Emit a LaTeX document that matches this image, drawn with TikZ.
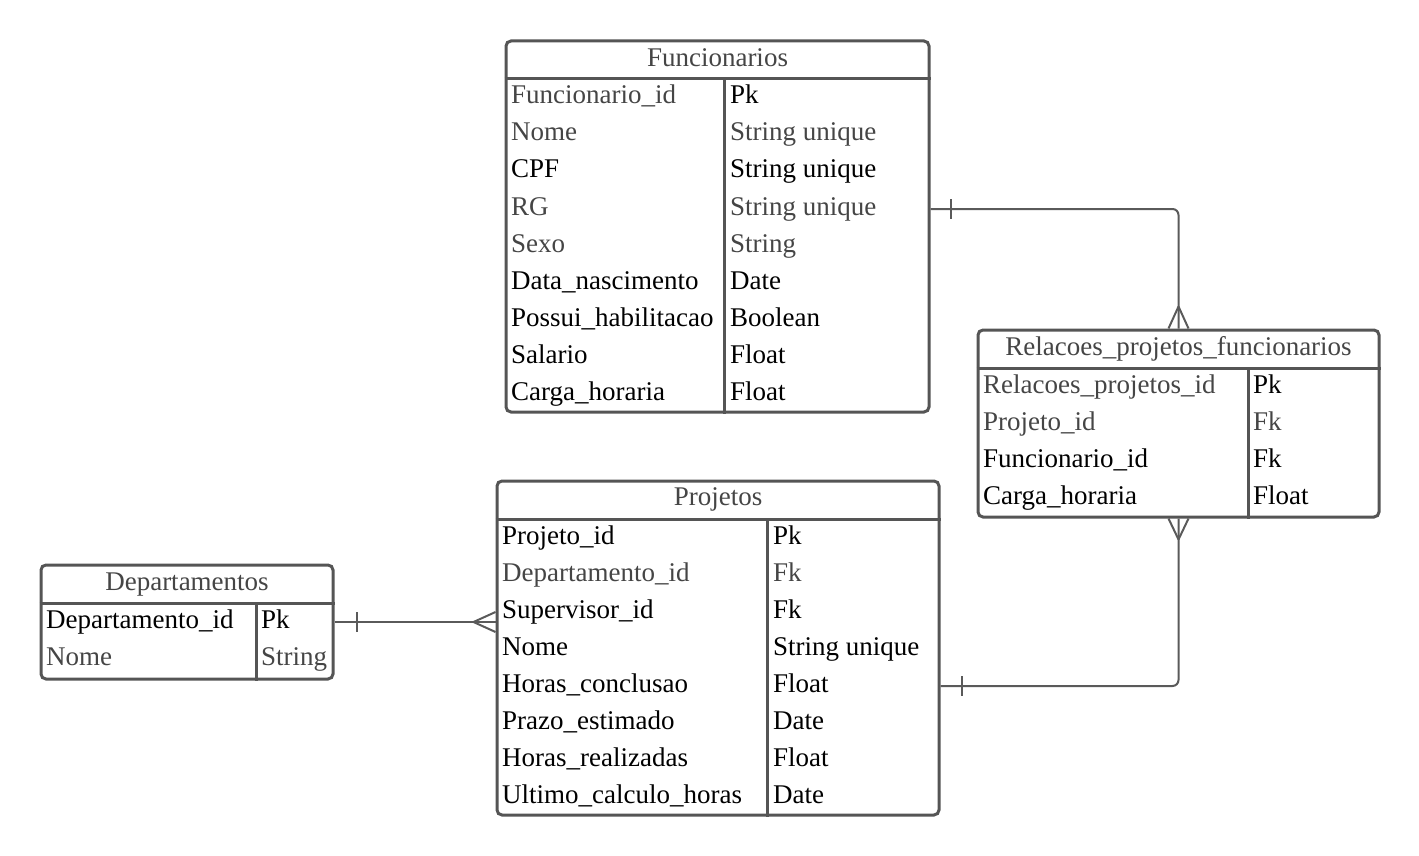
\documentclass[tikz,border=0pt]{standalone}
\usepackage{fontspec}
\setmainfont{Liberation Serif}
\usetikzlibrary{calc}
\definecolor{boxc}{HTML}{555555}
\definecolor{linec}{HTML}{5A5A5A}
\definecolor{softtext}{HTML}{454545}
\begin{document}
\begin{tikzpicture}[x=1pt,y=-1pt,
  every node/.style={font=\rmfamily\fontsize{27pt}{30pt}\selectfont, inner sep=0pt},
  tablebox/.style={draw=boxc, line width=3pt, rounded corners=5pt, inner sep=0pt, fill=none},
  divline/.style={draw=boxc, line width=3pt},
  conn/.style={draw=linec, line width=2pt},
  ttl/.style={anchor=base, text=softtext},
  fd/.style={anchor=base west, text=black},
  fdg/.style={anchor=base west, text=softtext}]
\useasboundingbox (0,0) rectangle (1419,856);

% ---------- Funcionarios ----------
\node[tablebox, minimum width=423pt, minimum height=371pt] (fun) at (717.5,226.5) {};
\draw[divline] (fun.west |- 0,79) -- (fun.east |- 0,79);
\draw[divline] (724,79) -- (fun.south -| 724,0);
\node[ttl] (funT) at (717.5,67) {Funcionarios};
\node[fdg] (fun1a) at (511,104) {Funcionario\_id};
\node[fd]  (fun1b) at (730,104) {Pk};
\node[fdg] (fun2a) at (511,141) {Nome};
\node[fdg] (fun2b) at (730,141) {String unique};
\node[fd]  (fun3a) at (511,178) {CPF};
\node[fd]  (fun3b) at (730,178) {String unique};
\node[fdg] (fun4a) at (511,215) {RG};
\node[fdg] (fun4b) at (730,215) {String unique};
\node[fdg] (fun5a) at (511,252) {Sexo};
\node[fdg] (fun5b) at (730,252) {String};
\node[fd]  (fun6a) at (511,289) {Data\_nascimento};
\node[fd]  (fun6b) at (730,289) {Date};
\node[fd]  (fun7a) at (511,326) {Possui\_habilitacao};
\node[fd]  (fun7b) at (730,326) {Boolean};
\node[fd]  (fun8a) at (511,363) {Salario};
\node[fd]  (fun8b) at (730,363) {Float};
\node[fd]  (fun9a) at (511,400) {Carga\_horaria};
\node[fd]  (fun9b) at (730,400) {Float};

% ---------- Relacoes_projetos_funcionarios ----------
\node[tablebox, minimum width=401pt, minimum height=187pt] (rel) at (1178.5,423.5) {};
\draw[divline] (rel.west |- 0,368) -- (rel.east |- 0,368);
\draw[divline] (1248,368) -- (rel.south -| 1248,0);
\node[ttl] (relT) at (1178.5,355) {Relacoes\_projetos\_funcionarios};
\node[fdg] (rel1a) at (983,393) {Relacoes\_projetos\_id};
\node[fd]  (rel1b) at (1253,393) {Pk};
\node[fdg] (rel2a) at (983,430) {Projeto\_id};
\node[fdg] (rel2b) at (1253,430) {Fk};
\node[fd]  (rel3a) at (983,467) {Funcionario\_id};
\node[fd]  (rel3b) at (1253,467) {Fk};
\node[fd]  (rel4a) at (983,504) {Carga\_horaria};
\node[fd]  (rel4b) at (1253,504) {Float};

% ---------- Projetos ----------
\node[tablebox, minimum width=442pt, minimum height=334pt] (proj) at (718,648) {};
\draw[divline] (proj.west |- 0,519) -- (proj.east |- 0,519);
\draw[divline] (767,519) -- (proj.south -| 767,0);
\node[ttl] (projT) at (718,505) {Projetos};
\node[fd]  (proj1a) at (502,544) {Projeto\_id};
\node[fd]  (proj1b) at (773,544) {Pk};
\node[fdg] (proj2a) at (502,581) {Departamento\_id};
\node[fdg] (proj2b) at (773,581) {Fk};
\node[fd]  (proj3a) at (502,618) {Supervisor\_id};
\node[fd]  (proj3b) at (773,618) {Fk};
\node[fd]  (proj4a) at (502,655) {Nome};
\node[fd]  (proj4b) at (773,655) {String unique};
\node[fd]  (proj5a) at (502,692) {Horas\_conclusao};
\node[fd]  (proj5b) at (773,692) {Float};
\node[fd]  (proj6a) at (502,729) {Prazo\_estimado};
\node[fd]  (proj6b) at (773,729) {Date};
\node[fd]  (proj7a) at (502,766) {Horas\_realizadas};
\node[fd]  (proj7b) at (773,766) {Float};
\node[fd]  (proj8a) at (502,803) {Ultimo\_calculo\_horas};
\node[fd]  (proj8b) at (773,803) {Date};

% ---------- Departamentos ----------
\node[tablebox, minimum width=292pt, minimum height=114pt] (dep) at (187,622) {};
\draw[divline] (dep.west |- 0,603) -- (dep.east |- 0,603);
\draw[divline] (256,603) -- (dep.south -| 256,0);
\node[ttl] (depT) at (187,590) {Departamentos};
\node[fd]  (dep1a) at (46,628) {Departamento\_id};
\node[fd]  (dep1b) at (261,628) {Pk};
\node[fdg] (dep2a) at (46,665) {Nome};
\node[fdg] (dep2b) at (261,665) {String};

% ---------- Relationships ----------
% Funcionarios (one) -- Relacoes (many)
\coordinate (c1s) at (fun.east |- 0,209);
\draw[conn, rounded corners=6pt] (c1s) -| (rel.north);
\draw[conn] ($(c1s)+(20,-10)$) -- ($(c1s)+(20,10)$);
\draw[conn] ($(rel.north)+(0,-22)$) -- ($(rel.north)+(-10,0)$);
\draw[conn] ($(rel.north)+(0,-22)$) -- ($(rel.north)+(10,0)$);

% Departamentos (one) -- Projetos (many)
\coordinate (c2s) at (dep.east |- 0,622);
\coordinate (c2e) at (proj.west |- 0,622);
\draw[conn] (c2s) -- (c2e);
\draw[conn] ($(c2s)+(22,-10)$) -- ($(c2s)+(22,10)$);
\draw[conn] ($(c2e)+(-22,0)$) -- ($(c2e)+(0,-10)$);
\draw[conn] ($(c2e)+(-22,0)$) -- ($(c2e)+(0,10)$);

% Projetos (one) -- Relacoes (many)
\coordinate (c3e) at (proj.east |- 0,686);
\draw[conn, rounded corners=6pt] (rel.south) |- (c3e);
\draw[conn] ($(c3e)+(21,-10)$) -- ($(c3e)+(21,10)$);
\draw[conn] ($(rel.south)+(0,21)$) -- ($(rel.south)+(-10,0)$);
\draw[conn] ($(rel.south)+(0,21)$) -- ($(rel.south)+(10,0)$);
\end{tikzpicture}
\end{document}
